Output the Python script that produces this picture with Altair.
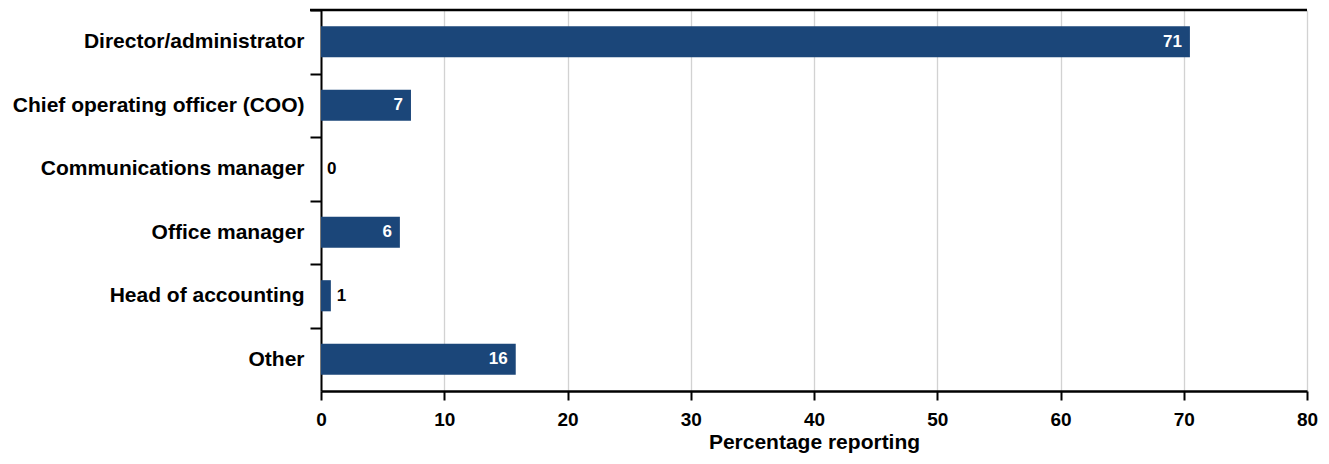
import altair as alt
import pandas as pd

roles = [
    "Director/administrator",
    "Chief operating officer (COO)",
    "Communications manager",
    "Office manager",
    "Head of accounting",
    "Other",
]
values = [70.5, 7.3, 0.0, 6.4, 0.8, 15.8]
labels = ["71", "7", "0", "6", "1", "16"]
x_ticks = [0, 10, 20, 30, 40, 50, 60, 70, 80]

df = pd.DataFrame({"role": roles, "value": values, "label": labels})
df["inside"] = df["value"] >= 3

W, H = 986, 381
PI, PO = 0.51, 0.255
STEP = H / (len(roles) - PI + 2 * PO)
FONT = "Liberation Sans"
BAR = "#1b4679"

y_enc = alt.Y(
    "role:N",
    sort=roles,
    title=None,
    scale=alt.Scale(paddingInner=PI, paddingOuter=PO),
    axis=alt.Axis(
        tickOffset=-STEP / 2,
        labelOffset=STEP / 2,
        tickSize=11,
        tickWidth=2,
        tickColor="black",
        domainColor="black",
        domainWidth=2,
        labelPadding=6,
        labelFont=FONT,
        labelFontSize=21,
        labelFontWeight="bold",
        labelColor="black",
        labelLimit=400,
        grid=False,
    ),
)
x_enc = alt.X(
    "value:Q",
    scale=alt.Scale(domain=[0, 80], nice=False),
    axis=alt.Axis(
        values=x_ticks,
        title="Percentage reporting",
        titleFont=FONT,
        titleFontSize=21,
        titleFontWeight="bold",
        titleColor="black",
        titleY=57,
        titleBaseline="alphabetic",
        tickSize=9,
        tickWidth=2,
        tickColor="black",
        domainColor="black",
        domainWidth=2.5,
        labelPadding=10,
        labelFont=FONT,
        labelFontSize=19,
        labelFontWeight="bold",
        labelColor="black",
        labelFlush=False,
        grid=True,
        gridColor="#d2d2d2",
        gridWidth=1.3,
    ),
)

base = alt.Chart(df)
bars = base.mark_bar(color=BAR).encode(x=x_enc, y=y_enc)

inside = (
    base.transform_filter("datum.inside")
    .mark_text(align="right", baseline="middle", dx=-8, color="white",
               font=FONT, fontSize=17, fontWeight="bold")
    .encode(x="value:Q", y=alt.Y("role:N", sort=roles), text="label:N")
)
outside = (
    base.transform_filter("!datum.inside")
    .mark_text(align="left", baseline="middle", dx=6, color="black",
               font=FONT, fontSize=17, fontWeight="bold")
    .encode(x="value:Q", y=alt.Y("role:N", sort=roles), text="label:N")
)

top_rule = (
    alt.Chart(pd.DataFrame({"k": [0]}))
    .mark_rule(color="black", strokeWidth=2.5)
    .encode(y=alt.value(0), x=alt.value(-11), x2=alt.value(W))
)

chart = (
    alt.layer(bars, inside, outside, top_rule)
    .properties(
        width=W,
        height=H,
        padding={"left": 313, "top": 2, "right": 13, "bottom": 65},
        autosize=alt.AutoSizeParams(type="none"),
    )
    .configure_view(stroke=None)
)

chart.save("out.html", embed_options={"renderer": "svg", "actions": False})
